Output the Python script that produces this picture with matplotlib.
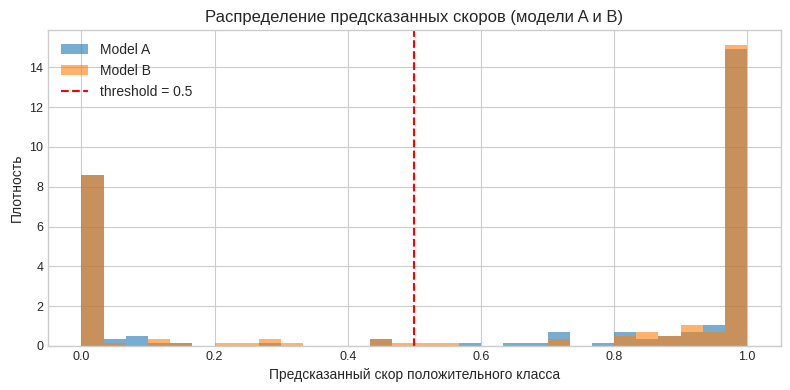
import numpy as np
import matplotlib
matplotlib.use("Agg")
import matplotlib.pyplot as plt

# 30 bins on [0, 1], density heights
edges = np.linspace(0, 1, 31)
dens_a = [8.57, 0.34, 0.52, 0.17, 0.17, 0, 0, 0, 0.17, 0,
          0, 0, 0, 0.34, 0, 0, 0, 0.17, 0, 0.17,
          0.17, 0.69, 0, 0.17, 0.69, 0.34, 0.52, 0.69, 1.03, 14.9]
dens_b = [8.57, 0.17, 0, 0.34, 0.17, 0, 0.17, 0.17, 0.34, 0.17,
          0, 0, 0, 0.34, 0.17, 0.17, 0.17, 0, 0, 0,
          0, 0.34, 0, 0, 0.52, 0.69, 0.52, 1.03, 0.69, 15.1]
threshold = 0.5

plt.style.use("seaborn-v0_8-whitegrid")
plt.rcParams['font.family'] = ['Liberation Sans', 'DejaVu Sans']
plt.rcParams['xtick.labelsize'] = 9
plt.rcParams['ytick.labelsize'] = 9

fig, ax = plt.subplots(figsize=(7.9, 3.9), dpi=100)
ax.hist(edges[:-1], bins=edges, weights=dens_a, alpha=0.6, label="Model A")
ax.hist(edges[:-1], bins=edges, weights=dens_b, alpha=0.6, label="Model B")
ax.axvline(threshold, color="red", linestyle="--", label=f"threshold = {threshold}")

ax.set_title("Распределение предсказанных скоров (модели A и B)")
ax.set_xlabel("Предсказанный скор положительного класса")
ax.set_ylabel("Плотность")
ax.legend(loc="upper left")

fig.subplots_adjust(left=0.061, right=0.988, top=0.922, bottom=0.113)
fig.savefig("out.png")
